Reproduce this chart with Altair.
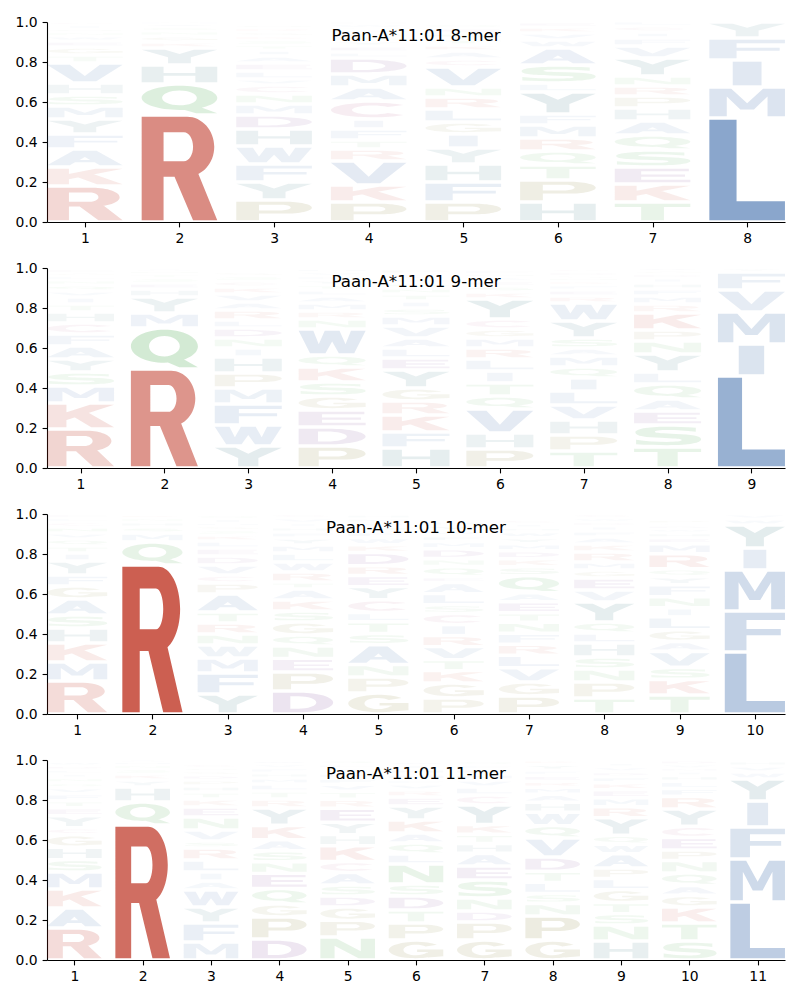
import math
import altair as alt
import pandas as pd

# ---------------- data ----------------
TITLES = ["Paan-A*11:01 8-mer", "Paan-A*11:01 9-mer",
          "Paan-A*11:01 10-mer", "Paan-A*11:01 11-mer"]

MER8_LETTERS = ["RKAFYMSHVTGEWNQIC", "RQHYKGNSAM", "PYFWHDMNCVLEAITSKGRQ",
                "PKVRTFICAMDLEYSGNQWH", "PFHYIGLRNVCAKTSEQ", "HPTQRMFYLSAWVKE",
                "TKESQAHPRNYVFICL", "LMIFY"]
MER8_HEIGHTS = [
    [.18, .095, .09, .075, .075, .065, .055, .06, .1, .04, .04, .03, .025, .02, .015, .02, .015],
    [.535, .155, .095, .085, .03, .03, .025, .02, .015, .01],
    [.11, .09, .09, .09, .085, .07, .055, .05, .045, .03, .04, .04, .035, .03, .025, .025, .02, .02, .02, .015],
    [.1, .085, .12, .06, .045, .055, .05, .09, .07, .065, .08, .03, .03, .025, .02, .02, .015, .01, .02, .01],
    [.1, .1, .09, .08, .07, .06, .065, .06, .05, .1, .04, .04, .03, .03, .03, .025, .02],
    [.1, .11, .075, .07, .065, .065, .055, .11, .045, .09, .085, .04, .035, .03, .025],
    [.1, .09, .085, .085, .075, .07, .065, .06, .05, .05, .09, .06, .04, .03, .03, .025],
    [.52, .155, .135, .11, .08],
]

MER9_LETTERS = ["RKMSYAFCHTIVQNLGE", "RQMYHESTNA", "YWFMPHINDLRAVKCSG",
                "PDEGSKQWNRMALTYFVH", "HFKRGYELAVMSITNQDCP", "PHVQTILRMGCYKSEANF",
                "TPHVLIQMASYWREFKNGDC", "TSEAQLYNPKRMFHIDGV", "LIMVFY"]
MER9_HEIGHTS = [
    [.195, .13, .085, .07, .065, .065, .06, .055, .055, .04, .035, .03, .03, .025, .02, .015, .02],
    [.495, .205, .075, .08, .04, .03, .025, .02, .015, .01],
    [.11, .105, .105, .08, .075, .08, .045, .05, .05, .04, .05, .04, .04, .035, .03, .025, .02],
    [.11, .095, .085, .07, .07, .075, .06, .13, .05, .04, .04, .035, .03, .025, .025, .02, .02, .015],
    [.1, .08, .085, .07, .065, .09, .06, .05, .05, .06, .05, .04, .035, .035, .03, .025, .02, .025, .025],
    [.095, .08, .12, .065, .065, .06, .06, .055, .05, .045, .05, .1, .035, .03, .025, .02, .015, .02],
    [.085, .08, .075, .075, .07, .065, .055, .055, .04, .05, .085, .09, .035, .03, .025, .02, .015, .01, .02, .015],
    [.105, .11, .07, .06, .075, .06, .09, .065, .055, .085, .045, .04, .035, .03, .025, .02, .015, .015],
    [.46, .16, .16, .11, .09, .02],
]

MER10_LETTERS = ["RMKHSAGFYITQVNCLE", "RQMSHNK", "YFMWNRTAPCVDELKSGHIQ",
                 "DPENQGSKATRWLMYFHIVC", "GPNASTLCYERDKWFQVMH", "PGKTVRICSLAEQNDMFWYH",
                 "PGVLRFNTEAQSKDMYWHIC", "TPNSHLQYVEGMRKAFIDWC", "TKSVAGLINFYQRMEHWDCP",
                 "LFMIYWV"]
MER10_HEIGHTS = [
    [.165, .095, .095, .075, .065, .08, .065, .055, .07, .04, .035, .035, .03, .03, .025, .02, .02],
    [.745, .115, .045, .03, .025, .02, .015],
    [.1, .105, .075, .065, .055, .055, .055, .09, .055, .04, .05, .045, .04, .035, .03, .025, .02, .015, .02, .02],
    [.115, .095, .068, .062, .055, .065, .055, .055, .055, .035, .05, .05, .045, .04, .035, .03, .025, .02, .025, .02],
    [.105, .08, .062, .1, .055, .06, .045, .065, .065, .055, .05, .065, .04, .035, .03, .025, .02, .02, .02],
    [.08, .075, .062, .055, .065, .055, .055, .055, .045, .055, .055, .03, .05, .04, .05, .035, .03, .025, .025, .02],
    [.09, .07, .072, .062, .055, .055, .055, .047, .055, .045, .085, .045, .04, .04, .035, .03, .03, .02, .02, .02],
    [.08, .08, .065, .06, .07, .05, .055, .1, .06, .06, .04, .04, .05, .04, .035, .03, .025, .02, .02, .02],
    [.095, .078, .06, .08, .05, .058, .065, .045, .055, .06, .04, .04, .075, .05, .03, .025, .02, .015, .01, .02],
    [.31, .205, .205, .11, .115, .03, .025],
]

MER11_LETTERS = ["RAKMSHGCYETFVQNILDW", "RQHYKSNMA", "MFYWAILRSVNEKTHPDGQC",
                 "DPGQENSAKYRTLMHFVW", "NPGDSACKHYERTVFMILQ", "GPTDSNLQAKYERVFMHIW",
                 "GPDNSEAHTKYCLVMRFQ", "GPNSLTDVQWHAMREFYK", "HNSTGLPAWQYRMEKFDVI",
                 "STKGAQNPECYRFLHIMVD", "LMFIYWVH"]
MER11_HEIGHTS = [
    [.16, .1, .095, .085, .062, .062, .062, .035, .06, .04, .035, .035, .03, .025, .025, .02, .02, .02, .02],
    [.675, .115, .075, .035, .03, .025, .02, .015, .01],
    [.09, .095, .08, .085, .045, .045, .06, .06, .035, .055, .065, .05, .04, .035, .03, .03, .025, .02, .015, .02],
    [.105, .11, .065, .078, .075, .058, .055, .055, .072, .087, .045, .04, .035, .03, .025, .025, .02, .015],
    [.115, .083, .067, .055, .055, .062, .055, .08, .055, .062, .07, .045, .04, .035, .03, .025, .025, .02, .02],
    [.1, .085, .065, .07, .06, .1, .05, .055, .05, .065, .07, .045, .035, .03, .02, .03, .025, .02, .015],
    [.1, .09, .055, .065, .09, .07, .063, .05, .045, .05, .097, .05, .04, .035, .03, .025, .02, .02],
    [.1, .12, .063, .05, .055, .055, .072, .095, .062, .067, .05, .04, .035, .03, .03, .025, .03, .02],
    [.095, .08, .057, .055, .065, .055, .053, .072, .047, .045, .087, .055, .045, .04, .035, .03, .025, .025, .02],
    [.095, .09, .08, .058, .05, .062, .062, .053, .063, .055, .087, .063, .04, .035, .03, .02, .015, .02, .02],
    [.29, .215, .16, .13, .11, .035, .03, .025],
]

GROUP_COLORS = {
    "AFILMVW": "#1e549d",
    "KR": "#ba2816",
    "NQST": "#28962a",
    "DE": "#5a1478",
    "GP": "#6e640a",
    "HY": "#0a5564",
    "C": "#aa3c6e",
}
COLORS = {ch: col for grp, col in GROUP_COLORS.items() for ch in grp}

# ---------------- layout ----------------
W, H = 738, 200
LETTER_WIDTH = 0.8       # in column units
WIDTH_FRAC = {"I": 0.38}  # narrow glyph not stretched more than E
VPAD = 3.5               # px lost between stacked glyphs


# ---------------- glyph outlines (unit box, y up) ----------------
def pt(cx, cy, rx, ry, a):
    t = math.radians(a)
    return (cx + rx * math.cos(t), cy + ry * math.sin(t))


def arc(cx, cy, rx, ry, a0, a1):
    n = max(1, int(math.ceil(abs(a1 - a0) / 90.0 - 1e-9)))
    da = (a1 - a0) / n
    segs = []
    for i in range(n):
        t0 = math.radians(a0 + i * da)
        t1 = math.radians(a0 + (i + 1) * da)
        k = 4.0 / 3.0 * math.tan((t1 - t0) / 4.0)
        p0 = (cx + rx * math.cos(t0), cy + ry * math.sin(t0))
        p1 = (cx + rx * math.cos(t1), cy + ry * math.sin(t1))
        c1 = (p0[0] - k * rx * math.sin(t0), p0[1] + k * ry * math.cos(t0))
        c2 = (p1[0] + k * rx * math.sin(t1), p1[1] - k * ry * math.cos(t1))
        segs.append(("C", c1, c2, p1))
    return segs


def poly(*p):
    return [p[0]] + [("L", q) for q in p[1:]]


def rect(x0, y0, x1, y1):
    return poly((x0, y0), (x1, y0), (x1, y1), (x0, y1))


def ellipse(cx, cy, rx, ry):
    return [pt(cx, cy, rx, ry, 0)] + arc(cx, cy, rx, ry, 0, 360)


def ring_arc(cx, cy, rxo, ryo, rxi, ryi, a0, a1):
    return ([pt(cx, cy, rxo, ryo, a0)] + arc(cx, cy, rxo, ryo, a0, a1)
            + [("L", pt(cx, cy, rxi, ryi, a1))] + arc(cx, cy, rxi, ryi, a1, a0))


def bowl(xl, y0, y1, xr, xj):
    cy, ry, rx = (y0 + y1) / 2, (y1 - y0) / 2, xr - xj
    return [(xl, y0), ("L", (xj, y0))] + arc(xj, cy, rx, ry, -90, 90) + [("L", (xl, y1))]


def sample(sub):
    pts = [sub[0]]
    cur = sub[0]
    for s in sub[1:]:
        if s[0] == "L":
            pts.append(s[1])
            cur = s[1]
        else:
            c1, c2, p = s[1], s[2], s[3]
            for t in (0.25, 0.5, 0.75, 1.0):
                m = 1 - t
                pts.append((m ** 3 * cur[0] + 3 * m * m * t * c1[0] + 3 * m * t * t * c2[0] + t ** 3 * p[0],
                            m ** 3 * cur[1] + 3 * m * m * t * c1[1] + 3 * m * t * t * c2[1] + t ** 3 * p[1]))
            cur = p
    return pts


def area(pts):
    a = 0.0
    for i in range(len(pts)):
        x0, y0 = pts[i]
        x1, y1 = pts[(i + 1) % len(pts)]
        a += x0 * y1 - x1 * y0
    return a / 2


def reverse(sub):
    ends = [sub[0]] + [s[-1] for s in sub[1:]]
    segs = sub[1:]
    out = [ends[-1]]
    for i in range(len(segs) - 1, -1, -1):
        s = segs[i]
        if s[0] == "L":
            out.append(("L", ends[i]))
        else:
            out.append(("C", s[2], s[1], ends[i]))
    return out


def orient(sub, ccw):
    if (area(sample(sub)) > 0) != ccw:
        return reverse(sub)
    return sub


S_OUTLINE = [(0.92, 0.95),
             ("C", (0.77, 0.99), (0.63, 1.0), (0.50, 1.0)),
             ("C", (0.18, 1.0), (0.02, 0.87), (0.02, 0.69)),
             ("C", (0.02, 0.49), (0.18, 0.43), (0.40, 0.40)),
             ("L", (0.58, 0.37)),
             ("C", (0.68, 0.355), (0.71, 0.33), (0.71, 0.285)),
             ("C", (0.71, 0.22), (0.63, 0.18), (0.49, 0.18)),
             ("C", (0.33, 0.18), (0.18, 0.22), (0.03, 0.30)),
             ("L", (0.03, 0.05)),
             ("C", (0.18, 0.015), (0.34, 0.0), (0.50, 0.0)),
             ("C", (0.83, 0.0), (1.0, 0.13), (1.0, 0.32)),
             ("C", (1.0, 0.53), (0.85, 0.58), (0.62, 0.615)),
             ("L", (0.44, 0.645)),
             ("C", (0.34, 0.66), (0.31, 0.685), (0.31, 0.725)),
             ("C", (0.31, 0.785), (0.38, 0.82), (0.51, 0.82)),
             ("C", (0.64, 0.82), (0.77, 0.79), (0.92, 0.73))]

RAW = {
    "A": [(poly((0, 0), (0.30, 0), (0.37, 0.20), (0.63, 0.20), (0.70, 0), (1, 0), (0.655, 1), (0.345, 1)), False),
          (poly((0.43, 0.36), (0.57, 0.36), (0.5, 0.57)), True)],
    "C": [(ring_arc(0.55, 0.5, 0.55, 0.5, 0.27, 0.32, 42, 318), False)],
    "D": [(bowl(0, 0, 1, 1.0, 0.45), False), (bowl(0.29, 0.18, 0.82, 0.72, 0.42), True)],
    "E": [(rect(0, 0, 0.35, 1), False), (rect(0, 0, 1, 0.19), False),
          (rect(0, 0.41, 0.93, 0.58), False), (rect(0, 0.81, 0.98, 1), False)],
    "F": [(rect(0, 0, 0.36, 1), False), (rect(0, 0.81, 1, 1), False), (rect(0, 0.40, 0.93, 0.57), False)],
    "G": [(ring_arc(0.5, 0.5, 0.5, 0.5, 0.23, 0.32, 40, 330), False),
          (poly((0.72, 0.05), (1.0, 0.12), (1.0, 0.53), (0.72, 0.53)), False),
          (rect(0.52, 0.38, 1.0, 0.53), False)],
    "H": [(rect(0, 0, 0.29, 1), False), (rect(0.71, 0, 1, 1), False), (rect(0, 0.42, 1, 0.59), False)],
    "I": [(rect(0, 0, 1, 1), False)],
    "K": [(rect(0, 0, 0.29, 1), False),
          (poly((0.27, 0.30), (1.0, 1.0), (0.64, 1.0), (0.27, 0.64)), False),
          (poly((0.38, 0.50), (0.66, 0.0), (1.0, 0.0), (0.60, 0.68)), False)],
    "L": [(rect(0, 0, 0.36, 1), False), (rect(0, 0, 1, 0.19), False)],
    "M": [(poly((0, 0), (0.23, 0), (0.23, 0.72), (0.41, 0.25), (0.59, 0.25), (0.77, 0.72), (0.77, 0),
                (1, 0), (1, 1), (0.71, 1), (0.5, 0.47), (0.29, 1), (0, 1)), False)],
    "N": [(poly((0, 0), (0.26, 0), (0.26, 0.64), (0.70, 0), (1, 0), (1, 1), (0.74, 1), (0.74, 0.36),
                (0.30, 1), (0, 1)), False)],
    "P": [(rect(0, 0, 0.30, 1), False), (bowl(0.2, 0.36, 1.0, 1.0, 0.64), False),
          (bowl(0.30, 0.53, 0.84, 0.72, 0.60), True)],
    "Q": [(ellipse(0.5, 0.56, 0.5, 0.44), False), (ellipse(0.5, 0.56, 0.23, 0.27), True),
          (poly((0.50, 0.17), (0.72, 0.0), (1.0, 0.0), (0.78, 0.22)), False)],
    "R": [(rect(0, 0, 0.29, 1), False), (bowl(0.2, 0.42, 1.0, 0.96, 0.60), False),
          (bowl(0.29, 0.57, 0.85, 0.68, 0.56), True),
          (poly((0.40, 0.48), (0.68, 0.0), (1.0, 0.0), (0.72, 0.50)), False)],
    "S": [(S_OUTLINE, False)],
    "T": [(rect(0, 0.81, 1, 1), False), (rect(0.35, 0, 0.65, 1), False)],
    "V": [(poly((0, 1), (0.35, 0), (0.65, 0), (1, 1), (0.70, 1), (0.5, 0.32), (0.30, 1)), False)],
    "W": [(poly((0, 1), (0.17, 0), (0.40, 0), (0.5, 0.52), (0.60, 0), (0.83, 0), (1, 1), (0.78, 1),
                (0.70, 0.40), (0.61, 1), (0.39, 1), (0.30, 0.40), (0.22, 1)), False)],
    "Y": [(poly((0, 1), (0.35, 0.45), (0.35, 0), (0.65, 0), (0.65, 0.45), (1, 1), (0.69, 1),
                (0.5, 0.68), (0.31, 1)), False)],
}
GLYPHS = {ch: [orient(sub, not hole) for sub, hole in parts] for ch, parts in RAW.items()}


def glyph_path(ch, gw, gh):
    def f(p):
        return "%.1f,%.1f" % ((p[0] - 0.5) * gw, -(p[1] - 0.5) * gh)
    out = []
    for sub in GLYPHS[ch]:
        out.append("M" + f(sub[0]))
        for s in sub[1:]:
            if s[0] == "L":
                out.append("L" + f(s[1]))
            else:
                out.append("C" + f(s[1]) + " " + f(s[2]) + " " + f(s[3]))
        out.append("Z")
    return "".join(out)


# ---------------- chart ----------------
def panel(title, letters, heights):
    n = len(letters)
    ppu = W / (n - 0.2)
    rows = []
    for i, (lets, hs) in enumerate(zip(letters, heights)):
        assert len(lets) == len(hs), (title, i, len(lets), len(hs))
        y0 = 0.0
        for ch, h in zip(lets, hs):
            y1 = y0 + h
            gw = LETTER_WIDTH * ppu * WIDTH_FRAC.get(ch, 1.0)
            gh = max(h * H - VPAD, h * H * 0.4)
            rows.append({"pos": i + 1, "letter": ch, "p": h, "yc": (y0 + y1) / 2,
                         "path": glyph_path(ch, gw, gh), "color": COLORS[ch]})
            y0 = y1
    df = pd.DataFrame(rows)
    pts = alt.Chart(df).mark_point(filled=True, strokeWidth=0, size=4).encode(
        x=alt.X("pos:Q", scale=alt.Scale(domain=[0.6, n + 0.4], nice=False, zero=False),
                axis=alt.Axis(values=list(range(1, n + 1)), format="d", title=None, grid=False)),
        y=alt.Y("yc:Q", scale=alt.Scale(domain=[0, 1], nice=False, zero=False),
                axis=alt.Axis(values=[0, 0.2, 0.4, 0.6, 0.8, 1.0], format=".1f", title=None, grid=False)),
        shape=alt.Shape("path:N", scale=None),
        color=alt.Color("color:N", scale=None),
        opacity=alt.Opacity("p:Q", scale=None),
    )
    ttl = alt.Chart(pd.DataFrame({"t": [title]})).mark_text(
        font="DejaVu Sans", fontSize=16.7, color="black", align="center", baseline="middle"
    ).encode(text="t:N", x=alt.value(W / 2), y=alt.value(14))
    return alt.layer(pts, ttl).properties(width=W, height=H)


chart = alt.vconcat(
    panel(TITLES[0], MER8_LETTERS, MER8_HEIGHTS),
    panel(TITLES[1], MER9_LETTERS, MER9_HEIGHTS),
    panel(TITLES[2], MER10_LETTERS, MER10_HEIGHTS),
    panel(TITLES[3], MER11_LETTERS, MER11_HEIGHTS),
    spacing=15,
).properties(
    padding={"left": 7, "top": 7, "right": 5, "bottom": 5}
).configure_axis(
    labelFont="DejaVu Sans", labelFontSize=13.9, labelColor="black",
    domainColor="black", domainWidth=1.1, tickColor="black", tickWidth=1.1,
    tickSize=4.9, labelPadding=4.9, grid=False,
).configure_view(stroke=None)

chart.save("out.html", embed_options={"renderer": "svg", "actions": False})
